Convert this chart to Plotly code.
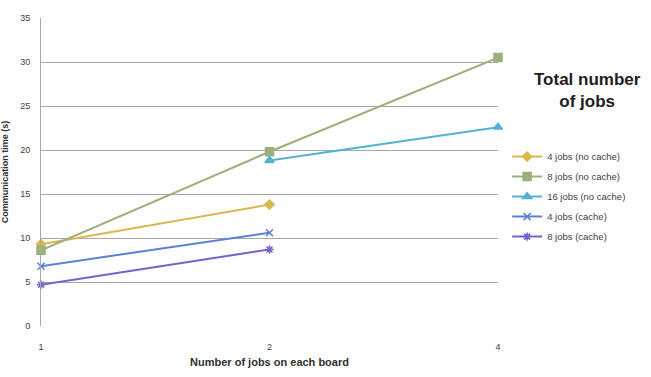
import plotly.graph_objects as go

x_cats = ["1", "2", "4"]
series_names = ["4 jobs (no cache)", "8 jobs (no cache)", "16 jobs (no cache)", "4 jobs (cache)", "8 jobs (cache)"]
s4_nocache = [9.3, 13.8, None]
s8_nocache = [8.6, 19.8, 30.5]
s16_nocache = [None, 18.8, 22.6]
s4_cache = [6.8, 10.6, None]
s8_cache = [4.7, 8.7, None]
y_ticks = [0, 5, 10, 15, 20, 25, 30, 35]

values = [s4_nocache, s8_nocache, s16_nocache, s4_cache, s8_cache]
colors = ["#D9B84E", "#9BB07A", "#4FB3CF", "#5C7FD8", "#7A60CB"]
symbols = ["diamond", "square", "triangle-up", "x-thin-open", "asterisk-open"]
sizes = [7, 8, 8, 7, 7]

fig = go.Figure()
for i, (name, vals, c, sym, sz) in enumerate(zip(series_names, values, colors, symbols, sizes)):
    fig.add_trace(go.Scatter(
        x=x_cats, y=vals, name=name, mode="lines+markers", legendgroup=f"g{i}",
        line=dict(color=c, width=2),
        marker=dict(symbol=sym, size=sz, color=c, line=dict(color=c, width=1.5)),
        cliponaxis=False, connectgaps=False,
    ))

fig.update_layout(
    width=651, height=377,
    margin=dict(l=41, r=153, t=18, b=51, autoexpand=False),
    paper_bgcolor="white", plot_bgcolor="white",
    font=dict(family="Liberation Sans, Arial, sans-serif", size=9, color="#404040"),
    showlegend=True,
    legend=dict(x=1.02, y=0.597, xanchor="left", yanchor="top",
                font=dict(size=9.5, color="#404040"), tracegroupgap=1,
                itemwidth=30, bgcolor="rgba(0,0,0,0)"),
    xaxis=dict(type="category", range=[0, 2], showgrid=False, zeroline=False,
               showline=False, ticks="", ticklabelstandoff=14, automargin=False,
               title=dict(text="<b>Number of jobs on each board</b>", font=dict(size=11, color="#303030"), standoff=7)),
    yaxis=dict(range=[0, 35], tickvals=y_ticks, showgrid=True, gridcolor="#A8A8A8", gridwidth=1,
               zeroline=False, showline=True, linecolor="#A8A8A8", linewidth=1, ticks="",
               ticklabelstandoff=8, automargin=False,
               title=dict(text="<b>Communication time (s)</b>", font=dict(size=9, color="#303030"), standoff=12)),
    annotations=[dict(text="<b>Total number<br>of jobs</b>", x=1.196, y=0.763, xref="paper", yref="paper",
                      xanchor="center", yanchor="middle", showarrow=False,
                      font=dict(size=17, color="#202020"))],
)

fig.write_html("out.html")
